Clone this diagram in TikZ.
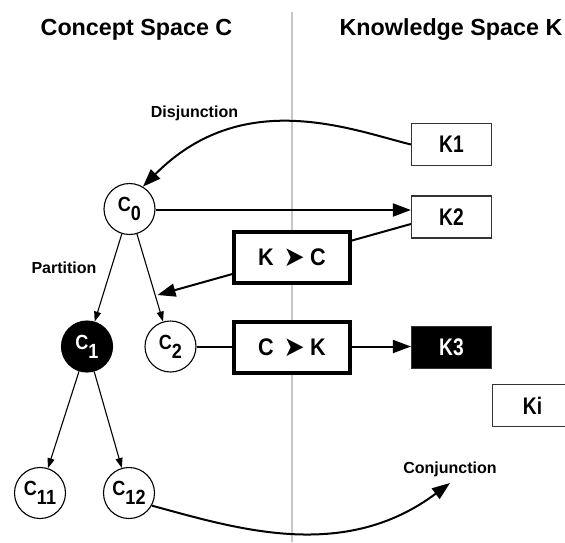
\documentclass[tikz,border=0pt]{standalone}
\usepackage{graphicx}
\usepackage{fontspec}
\setmainfont{Liberation Sans}
\newfontfamily\dvfont{DejaVu Sans}
\usetikzlibrary{arrows.meta,backgrounds}
\newcommand{\condtxt}[2][0.8]{\scalebox{#1}[1]{#2}}
\newcommand{\csub}[2]{\condtxt[0.88]{#1\raisebox{-9pt}{#2}}}
\newcommand{\opsym}{\raisebox{-1pt}{\dvfont\fontsize{28}{28}\selectfont ➤}}
\tikzset{
  kbox/.style={draw=black!80, line width=1.2pt, minimum width=80pt, minimum height=42pt, inner sep=0pt, fill=white,
    font=\fontsize{24}{24}\selectfont\bfseries},
  thickbox/.style={draw, fill=white, line width=4pt, minimum width=116pt, minimum height=51pt, inner sep=0pt,
    font=\fontsize{24}{24}\selectfont\bfseries},
  cnode/.style={circle, draw, line width=1.1pt, minimum size=51pt, inner sep=0pt, fill=white,
    font=\fontsize{20.5}{20.5}\selectfont\bfseries},
  conn/.style={line width=2pt, -{Triangle[length=18pt,width=13pt]}},
  tree/.style={line width=1.1pt, -{Triangle[length=10pt,width=7pt]}},
  lab/.style={font=\fontsize{16}{16}\selectfont\bfseries, inner sep=0pt},
  titletext/.style={font=\fontsize{23.3}{23.3}\selectfont\bfseries, anchor=base, inner sep=0pt},
  sepline/.style={draw=black!22, line width=1.2pt}
}
\begin{document}
\begin{tikzpicture}[x=1pt, y=-1pt]
\useasboundingbox (0,0) rectangle (565,542);

% titles
\node[titletext] (tc) at (136.5,35) {Concept Space C};
\node[titletext] (tk) at (451,35) {Knowledge Space K};

% knowledge nodes
\node[kbox] (K1) at (451.5,144.5) {\condtxt{K1}};
\node[kbox] (K2) at (451.5,217) {\condtxt{K2}};
\node[kbox, fill=black, text=white] (K3) at (451.5,347.5) {\condtxt{K3}};
\node[kbox] (Ki) at (532.5,405.5) {\condtxt{Ki}};

% concept nodes
\node[cnode] (c0) at (129.5,209) {\csub{C}{0}};
\node[cnode, fill=black, text=white] (c1) at (87,346.5) {\csub{C}{1}};
\node[cnode] (c2) at (170.5,346.5) {\csub{C}{2}};
\node[cnode] (c11) at (40,493) {\csub{C}{11}};
\node[cnode] (c12) at (129,493) {\csub{C}{12}};

% operator boxes
\node[thickbox] (KC) at (292,257.5) {\condtxt[0.9]{K\hspace{11pt}\opsym\hspace{6pt}C}};
\node[thickbox] (CK) at (292,347.5) {\condtxt[0.9]{C\hspace{11pt}\opsym\hspace{6pt}K}};

% labels
\node[lab] (ldis) at (194.5,113) {Disjunction};
\node[lab] (lpar) at (64,268) {Partition};
\node[lab] (lcon) at (450,469) {Conjunction};

\coordinate (kcEnd) at (157.5,295);
\coordinate (conjEnd) at (450,483);
\coordinate (sepTop) at (292,12);
\coordinate (sepBot) at (292,542);

\begin{pgfonlayer}{background}
  \draw[sepline] (sepTop) -- (sepBot);
  \draw[conn] ([yshift=-7pt]K2.west) -- (kcEnd);
  \draw[conn] (c2.east) -- (c2.east -| K3.west);
\end{pgfonlayer}

% connectors
\draw[conn] (K1.west) .. controls (350.5,129.5) and (242.5,86.5) .. (c0.59);
\draw[conn] ([yshift=-1pt]c0.east) -- ([yshift=-1pt]c0.east -| K2.west);
\draw[tree] (c0) -- (c1);
\draw[tree] (c0) -- (c2);
\draw[tree] (c1) -- (c11);
\draw[tree] (c1) -- (c12);
\draw[conn] (c12.-29) .. controls (235,528) and (343,563) .. (conjEnd);
\end{tikzpicture}
\end{document}
